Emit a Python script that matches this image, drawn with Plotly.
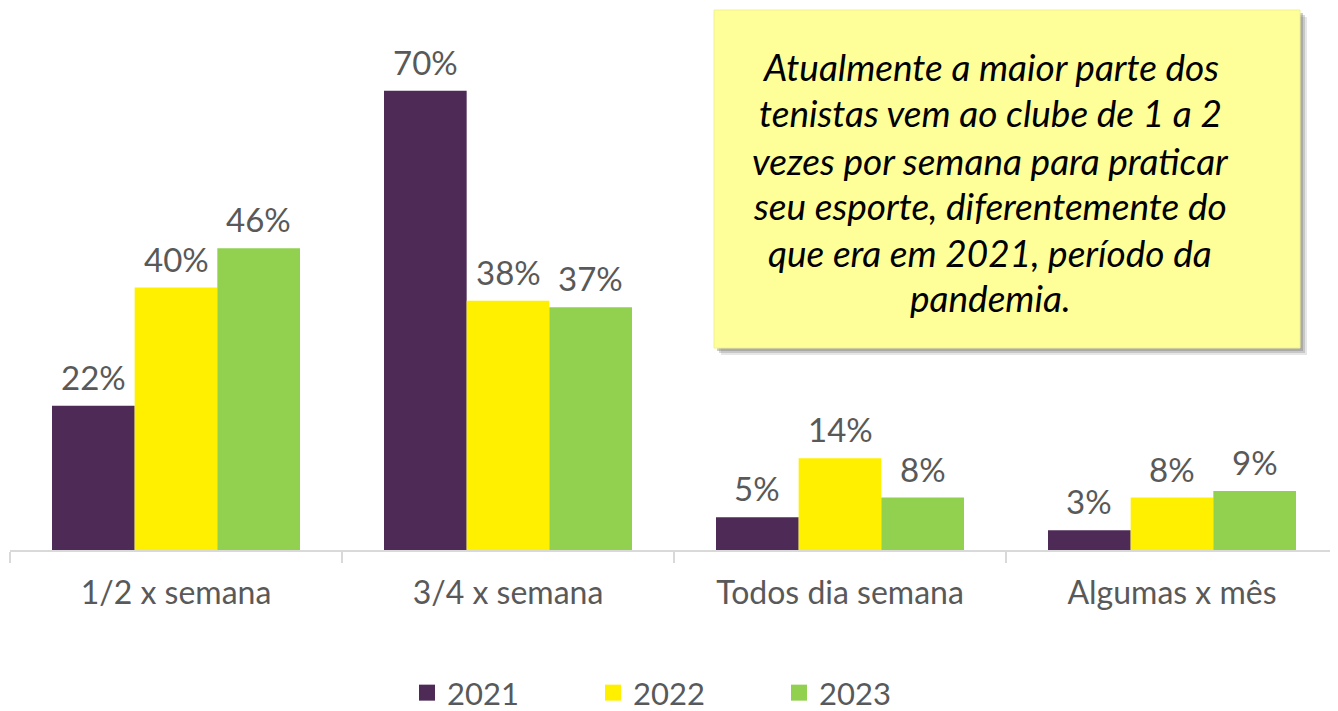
import plotly.graph_objects as go

categories = ["1/2 x semana", "3/4 x semana", "Todos dia semana", "Algumas x mês"]
series_names = ["2021", "2022", "2023"]
values_2021 = [22, 70, 5, 3]
values_2022 = [40, 38, 14, 8]
values_2023 = [46, 37, 8, 9]
colors = ["#4E2A57", "#FFF000", "#92D050"]
note_lines = [
    "Atualmente a maior parte dos",
    "tenistas vem ao clube de 1 a 2",
    "vezes por semana para praticar",
    "seu esporte, diferentemente do",
    "que era em 2021, período da",
    "pandemia.",
]

# page body has an 8px offset; work in figure pixel coords
W, H = 1330, 712
ml, mr, mt, mb = 2, 0, 12, 170
pw, ph = W - ml - mr, H - mt - mb
bargap = 0.253
cat_px = pw / len(categories)
bar_px = cat_px * (1 - bargap) / len(series_names)

def px2x(px):
    return (px - ml) / pw

def py2y(py):
    return (H - mb - py) / ph

fig = go.Figure()
all_vals = [values_2021, values_2022, values_2023]
for i, (name, vals, col) in enumerate(zip(series_names, all_vals, colors)):
    fig.add_trace(go.Bar(
        x=categories, y=vals, name=name, marker_color=col,
        marker_line_width=0, showlegend=False,
    ))
    fig.add_trace(go.Scatter(
        x=[None], y=[None], mode="markers", name=name,
        marker=dict(symbol="square", size=18, color=col),
    ))
    for c, v in zip(categories, vals):
        fig.add_annotation(x=c, y=v, xref="x", yref="y", text=f"{v}%",
                           showarrow=False, xanchor="center", yanchor="middle",
                           xshift=(i - 1) * bar_px, yshift=29,
                           font=dict(family="Lato", size=33, color="#595959"))

# shadow + note box
x0, x1, y0, y1 = 706, 1292, 2, 340
for off, op in [(7, 0.2), (5, 0.3), (3, 0.4)]:
    fig.add_shape(type="rect", xref="paper", yref="paper",
                  x0=px2x(x0 + off), x1=px2x(x1 + off), y0=py2y(y1 + off), y1=py2y(y0 + off),
                  fillcolor="#808080", opacity=op, line_width=0, layer="above")
fig.add_shape(type="rect", xref="paper", yref="paper",
              x0=px2x(x0), x1=px2x(x1), y0=py2y(y1), y1=py2y(y0),
              fillcolor="#FFFF99", line=dict(color="#F2F28C", width=1), layer="above")
line_y = [59, 105, 152, 197, 244, 289]
for txt, ly in zip(note_lines, line_y):
    fig.add_annotation(xref="paper", yref="paper", x=px2x(982), y=py2y(ly),
                       text=txt, showarrow=False, align="center",
                       xanchor="center", yanchor="middle",
                       font=dict(family="Lato", size=37, color="#000000", style="italic"))

fig.update_layout(
    width=W, height=H,
    margin=dict(l=ml, r=mr, t=mt, b=mb),
    paper_bgcolor="white", plot_bgcolor="white",
    barmode="group", bargap=bargap, bargroupgap=0,
    font=dict(family="Lato", color="#595959"),
    legend=dict(orientation="h", x=px2x(678), xanchor="center", y=py2y(712), yanchor="bottom",
                font=dict(family="Lato", size=31, color="#595959"),
                entrywidth=141, entrywidthmode="pixels", tracegroupgap=0,
                borderwidth=0),
    xaxis=dict(showline=True, linecolor="#D9D9D9", linewidth=2,
               ticks="outside", tickson="boundaries", ticklen=11, tickcolor="#D9D9D9",
               tickwidth=1.5, ticklabelstandoff=14,
               tickfont=dict(family="Lato", size=32, color="#595959"), showgrid=False),
    yaxis=dict(visible=False, range=[0, 80.8], showgrid=False, zeroline=False),
)

fig.write_html("out.html")
